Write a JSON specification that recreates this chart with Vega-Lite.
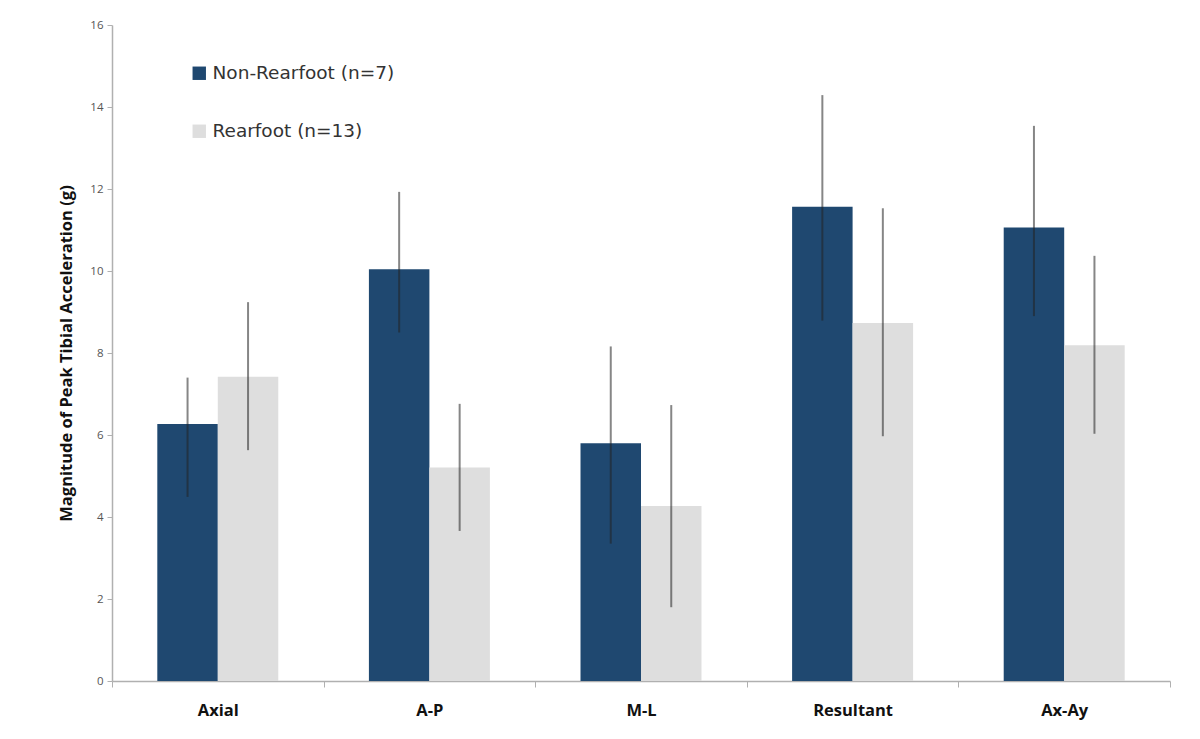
{
  "$schema": "https://vega.github.io/schema/vega-lite/v6.json",
  "width": 1058,
  "height": 656,
  "autosize": {"type": "none"},
  "padding": {"left": 112, "top": 25, "right": 30, "bottom": 58},
  "background": "white",
  "config": {"view": {"stroke": null}},
  "data": {
    "values": [
      {"measure": "Axial", "group": "Non-Rearfoot (n=7)", "value": 6.27, "lo": 4.49, "hi": 7.40},
      {"measure": "Axial", "group": "Rearfoot (n=13)", "value": 7.42, "lo": 5.63, "hi": 9.24},
      {"measure": "A-P", "group": "Non-Rearfoot (n=7)", "value": 10.04, "lo": 8.50, "hi": 11.93},
      {"measure": "A-P", "group": "Rearfoot (n=13)", "value": 5.21, "lo": 3.66, "hi": 6.76},
      {"measure": "M-L", "group": "Non-Rearfoot (n=7)", "value": 5.80, "lo": 3.35, "hi": 8.16},
      {"measure": "M-L", "group": "Rearfoot (n=13)", "value": 4.27, "lo": 1.80, "hi": 6.73},
      {"measure": "Resultant", "group": "Non-Rearfoot (n=7)", "value": 11.57, "lo": 8.79, "hi": 14.29},
      {"measure": "Resultant", "group": "Rearfoot (n=13)", "value": 8.73, "lo": 5.97, "hi": 11.53},
      {"measure": "Ax-Ay", "group": "Non-Rearfoot (n=7)", "value": 11.06, "lo": 8.90, "hi": 13.54},
      {"measure": "Ax-Ay", "group": "Rearfoot (n=13)", "value": 8.19, "lo": 6.03, "hi": 10.37}
    ]
  },
  "encoding": {
    "x": {
      "field": "measure",
      "type": "nominal",
      "sort": ["Axial", "A-P", "M-L", "Resultant", "Ax-Ay"],
      "scale": {"paddingInner": 0, "paddingOuter": 0},
      "axis": {
        "title": null,
        "labelAngle": 0,
        "labelFont": "Open Sans",
        "labelFontWeight": "bold",
        "labelFontSize": 16.5,
        "labelColor": "#111",
        "labelPadding": 15,
        "domainColor": "#b0b0b0",
        "domainWidth": 1.5,
        "tickColor": "#b0b0b0",
        "tickSize": 6,
        "tickBand": "extent",
        "grid": false
      }
    },
    "xOffset": {
      "field": "group",
      "type": "nominal",
      "scale": {"domain": ["Non-Rearfoot (n=7)", "Rearfoot (n=13)"], "paddingInner": 0, "paddingOuter": 0.749}
    }
  },
  "layer": [
    {
      "mark": {"type": "bar"},
      "encoding": {
        "y": {
          "field": "value",
          "type": "quantitative",
          "scale": {"domain": [0, 16], "nice": false},
          "axis": {
            "title": "Magnitude of Peak Tibial Acceleration (g)",
            "titleFont": "Open Sans",
            "titleFontWeight": "bold",
            "titleFontSize": 16.5,
            "titleColor": "#111",
            "titlePadding": 15,
            "values": [0, 2, 4, 6, 8, 10, 12, 14, 16],
            "labelFont": "Open Sans",
            "labelFontSize": 11.5,
            "labelColor": "#555",
            "labelPadding": 4,
            "domainColor": "#b0b0b0",
            "domainWidth": 1.5,
            "tickColor": "#b0b0b0",
            "tickSize": 5,
            "grid": false
          }
        },
        "color": {
          "field": "group",
          "type": "nominal",
          "scale": {"domain": ["Non-Rearfoot (n=7)", "Rearfoot (n=13)"], "range": ["#1f4870", "#dedede"]},
          "legend": {
            "title": null,
            "orient": "none",
            "legendX": 78,
            "legendY": 39,
            "padding": 0,
            "symbolType": "square",
            "symbolSize": 180,
            "symbolStrokeWidth": 0,
            "symbolOpacity": 1,
            "labelFont": "DejaVu Sans",
            "labelFontSize": 18.5,
            "labelColor": "#333",
            "labelLimit": 400,
            "labelOffset": 4,
            "rowPadding": 39
          }
        }
      }
    },
    {
      "mark": {"type": "rule", "color": "#222", "strokeWidth": 2, "opacity": 0.55},
      "encoding": {
        "y": {"field": "lo", "type": "quantitative"},
        "y2": {"field": "hi"}
      }
    }
  ]
}
